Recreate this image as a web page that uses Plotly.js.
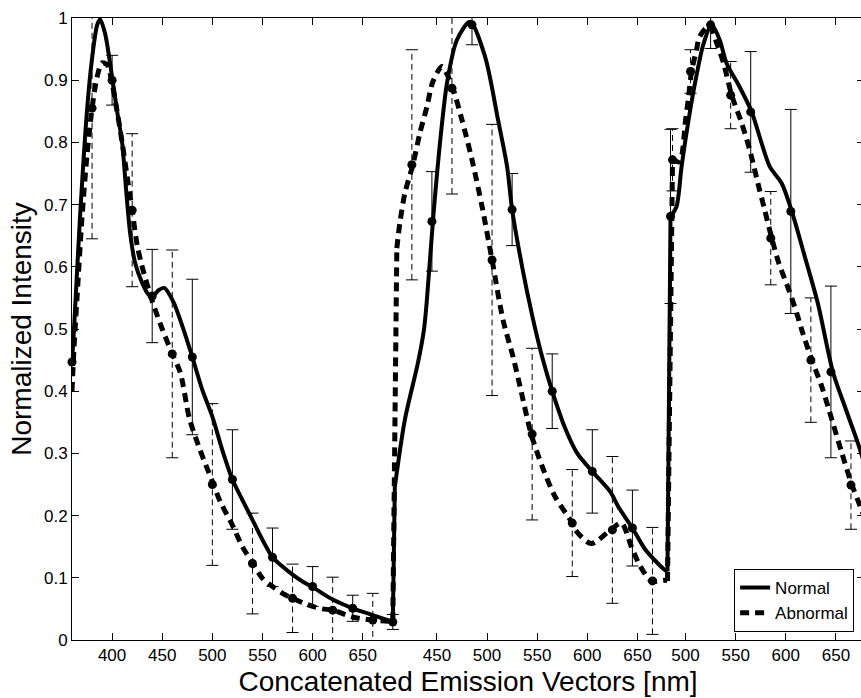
<!DOCTYPE html>
<html><head><meta charset="utf-8">
<script src="https://cdn.plot.ly/plotly-3.0.1.min.js"></script>
<style>html,body{margin:0;padding:0;overflow:hidden;background:#fff}</style>
</head><body><div id="chart"></div>
<script>
// ---- tick labels of the three concatenated emission vectors [nm]
const seg1Ticks = [400, 450, 500, 550, 600, 650];
const seg2Ticks = [450, 500, 550, 600, 650];
const seg3Ticks = [500, 550, 600, 650];
const yTicks = [0, 0.1, 0.2, 0.3, 0.4, 0.5, 0.6, 0.7, 0.8, 0.9, 1];
const yTickText = ['0', '0.1', '0.2', '0.3', '0.4', '0.5', '0.6', '0.7', '0.8', '0.9', '1'];

// ---- Normal: smooth curve (wavelength, intensity) per segment
const normal1Wl  = [360, 362, 368, 375, 380, 385, 388, 393, 400, 405, 410, 414, 418, 423, 430, 436, 440, 447, 452, 461, 470, 480, 490, 500, 510, 520, 530, 540, 550, 560, 570, 580, 590, 600, 620, 640, 660, 680];
const normal1Val = [0.447, 0.50, 0.68, 0.852, 0.935, 0.988, 0.998, 0.975, 0.905, 0.85, 0.80, 0.723, 0.654, 0.606, 0.574, 0.556, 0.553, 0.563, 0.566, 0.544, 0.505, 0.455, 0.402, 0.359, 0.305, 0.258, 0.225, 0.193, 0.161, 0.133, 0.118, 0.105, 0.094, 0.085, 0.065, 0.051, 0.04, 0.029];
const normal2Wl  = [408, 418, 431, 437, 440, 446, 453, 460, 470, 483, 498, 511, 520, 525, 535, 545, 555, 565, 578, 590, 605, 623, 631, 645, 658, 677, 680];
const normal2Val = [0.246, 0.354, 0.445, 0.498, 0.547, 0.673, 0.798, 0.895, 0.965, 0.994, 0.938, 0.836, 0.761, 0.692, 0.60, 0.522, 0.455, 0.40, 0.34, 0.30, 0.271, 0.238, 0.214, 0.18, 0.145, 0.113, 0.11];
const normal3Wl  = [485, 491, 496, 503, 510, 518, 526, 534, 541, 553, 566, 576, 584, 596, 606, 619, 632, 647, 659, 672, 680];
const normal3Val = [0.681, 0.697, 0.761, 0.836, 0.90, 0.959, 0.989, 0.965, 0.927, 0.892, 0.849, 0.798, 0.761, 0.734, 0.689, 0.616, 0.541, 0.431, 0.375, 0.316, 0.275];

// ---- Abnormal: smooth curve per segment
const abnormal1Wl  = [360, 362, 365, 370, 375, 380, 385, 390, 395, 400, 405, 410, 415, 420, 425, 430, 440, 450, 460, 468, 477, 486, 496, 500, 508, 519, 530, 540, 550, 560, 570, 580, 590, 600, 610, 620, 640, 660, 680];
const abnormal1Val = [0.40, 0.47, 0.55, 0.68, 0.78, 0.855, 0.905, 0.928, 0.925, 0.895, 0.85, 0.80, 0.745, 0.691, 0.635, 0.60, 0.545, 0.50, 0.46, 0.43, 0.357, 0.313, 0.271, 0.255, 0.222, 0.188, 0.15, 0.124, 0.099, 0.086, 0.075, 0.067, 0.06, 0.054, 0.05, 0.048, 0.037, 0.032, 0.03];
const abnormal2Wl  = [410, 413, 418, 426, 433, 440, 446, 455, 460, 466, 475, 485, 495, 505, 516, 526, 533, 544, 555, 568, 585, 588, 604, 623, 634, 644, 653, 664, 678, 680];
const abnormal2Val = [0.63, 0.67, 0.718, 0.764, 0.815, 0.857, 0.898, 0.922, 0.91, 0.887, 0.836, 0.772, 0.697, 0.611, 0.514, 0.455, 0.407, 0.331, 0.279, 0.23, 0.188, 0.177, 0.155, 0.177, 0.188, 0.15, 0.118, 0.095, 0.096, 0.095];
const abnormal3Wl  = [487, 494, 500, 503, 506, 511, 514, 524, 531, 538, 546, 556, 564, 573, 579, 586, 593, 603, 611, 616, 626, 636, 646, 656, 666, 673, 680];
const abnormal3Val = [0.772, 0.769, 0.836, 0.873, 0.914, 0.949, 0.97, 0.988, 0.96, 0.927, 0.876, 0.831, 0.788, 0.729, 0.691, 0.646, 0.606, 0.563, 0.525, 0.498, 0.45, 0.407, 0.354, 0.30, 0.249, 0.22, 0.19];

// ---- markers with standard deviations
const normalMk1Wl  = [360, 400, 440, 480, 520, 560, 600, 640, 680];
const normalMk1Val = [0.447, 0.90, 0.553, 0.455, 0.258, 0.133, 0.086, 0.051, 0.029];
const normalMk1Err = [0, 0.04, 0.075, 0.125, 0.08, 0.047, 0.032, 0.021, 0.012];
const normalMk2Wl  = [445, 485, 525, 565, 605, 645];
const normalMk2Val = [0.673, 0.989, 0.692, 0.40, 0.271, 0.18];
const normalMk2Err = [0.08, 0.032, 0.058, 0.06, 0.067, 0.061];
const normalMk3Wl  = [485, 525, 565, 605, 645];
const normalMk3Val = [0.681, 0.989, 0.849, 0.689, 0.431];
const normalMk3Err = [0.14, 0.038, 0.097, 0.164, 0.138];

const abnormalMk1Wl  = [380, 420, 460, 500, 540, 580, 620, 660];
const abnormalMk1Val = [0.855, 0.691, 0.46, 0.25, 0.123, 0.067, 0.048, 0.032];
const abnormalMk1Err = [0.21, 0.123, 0.167, 0.13, 0.081, 0.055, 0.053, 0.043];
const abnormalMk2Wl  = [425, 465, 505, 545, 585, 625, 665];
const abnormalMk2Val = [0.764, 0.887, 0.611, 0.331, 0.188, 0.177, 0.095];
const abnormalMk2Err = [0.185, 0.17, 0.218, 0.138, 0.086, 0.118, 0.086];
const abnormalMk3Wl  = [487, 505, 545, 585, 625, 665];
const abnormalMk3Val = [0.772, 0.914, 0.876, 0.646, 0.45, 0.249];
const abnormalMk3Err = [0.05, 0.035, 0.054, 0.075, 0.10, 0.071];

// ---- concatenation: position shift of each segment on the shared axis
const SEG_SHIFT = [0, 274, 472];
const CAP = 6; // cap half-width in axis units

const FONT = 'Liberation Sans, Arial, Helvetica, sans-serif';
const SOLID = {color: '#000', width: 4, shape: 'spline', smoothing: 0.8};
const DASHED = {color: '#000', width: 5, dash: '9px,6px', shape: 'spline', smoothing: 0.8};

const shift = (arr, k) => arr.map(w => w + SEG_SHIFT[k]);

const traces = [];
function addSeries(name, curves, style) {
  curves.forEach((c, k) => {
    traces.push({type: 'scatter', mode: 'lines', x: shift(c[0], k), y: c[1],
      line: style, name: name, legendgroup: name, showlegend: k === 0,
      hoverinfo: 'skip'});
    if (k < curves.length - 1) {
      const n = curves[k + 1];
      traces.push({type: 'scatter', mode: 'lines',
        x: [c[0][c[0].length - 1] + SEG_SHIFT[k], n[0][0] + SEG_SHIFT[k + 1]],
        y: [c[1][c[1].length - 1], n[1][0]],
        line: Object.assign({}, style, {shape: 'linear'}), legendgroup: name,
        showlegend: false, hoverinfo: 'skip'});
    }
  });
}

addSeries('Normal', [[normal1Wl, normal1Val], [normal2Wl, normal2Val], [normal3Wl, normal3Val]], SOLID);
addSeries('Abnormal', [[abnormal1Wl, abnormal1Val], [abnormal2Wl, abnormal2Val], [abnormal3Wl, abnormal3Val]], DASHED);

function addErrorMarkers(sets, dash, group) {
  sets.forEach((m, k) => {
    const xs = shift(m[0], k);
    const vx = [], vy = [], cx = [], cy = [];
    xs.forEach((x, i) => {
      if (!m[2][i]) return;
      const lo = m[1][i] - m[2][i], hi = m[1][i] + m[2][i];
      vx.push(x, x, null); vy.push(lo, hi, null);
      cx.push(x - CAP, x + CAP, null, x - CAP, x + CAP, null);
      cy.push(lo, lo, null, hi, hi, null);
    });
    traces.push({type: 'scatter', mode: 'lines', x: vx, y: vy,
      line: {color: '#000', width: 1, dash: dash}, showlegend: false, hoverinfo: 'skip', legendgroup: group});
    traces.push({type: 'scatter', mode: 'lines', x: cx, y: cy,
      line: {color: '#000', width: 1}, showlegend: false, hoverinfo: 'skip', legendgroup: group});
    traces.push({type: 'scatter', mode: 'markers', x: xs, y: m[1], cliponaxis: false,
      marker: {color: '#000', size: 9}, showlegend: false, legendgroup: group});
  });
}

addErrorMarkers([[normalMk1Wl, normalMk1Val, normalMk1Err], [normalMk2Wl, normalMk2Val, normalMk2Err], [normalMk3Wl, normalMk3Val, normalMk3Err]], 'solid', 'Normal');
addErrorMarkers([[abnormalMk1Wl, abnormalMk1Val, abnormalMk1Err], [abnormalMk2Wl, abnormalMk2Val, abnormalMk2Err], [abnormalMk3Wl, abnormalMk3Val, abnormalMk3Err]], '6px,4px', 'Abnormal');

const tickVals = [].concat(shift(seg1Ticks, 0), shift(seg2Ticks, 1), shift(seg3Ticks, 2));
const tickText = [].concat(seg1Ticks, seg2Ticks, seg3Ticks).map(String);

const layout = {
  width: 864, height: 698,
  margin: {l: 72, r: 0, t: 18, b: 58},
  paper_bgcolor: '#fff', plot_bgcolor: '#fff',
  font: {family: FONT, color: '#000', size: 17},
  showlegend: true,
  legend: {x: 0.9875, y: 0.0129, xanchor: 'right', yanchor: 'bottom',
    bgcolor: '#fff', bordercolor: '#000', borderwidth: 1,
    entrywidth: 130, entrywidthmode: 'pixels',
    font: {family: FONT, size: 17, color: '#000'}, tracegroupgap: 0},
  xaxis: {
    range: [360, 1150], showgrid: false, zeroline: false,
    showline: true, linecolor: '#000', linewidth: 1, mirror: 'ticks',
    ticks: 'inside', ticklen: 7, tickcolor: '#000', tickwidth: 1,
    tickmode: 'array', tickvals: tickVals, ticktext: tickText,
    tickfont: {family: FONT, size: 17, color: '#000'},
    title: {text: 'Concatenated Emission Vectors [nm]', font: {family: FONT, size: 28, color: '#000'}, standoff: 6}
  },
  yaxis: {
    range: [0, 1], showgrid: false, zeroline: false,
    showline: true, linecolor: '#000', linewidth: 1, mirror: 'ticks',
    ticks: 'inside', ticklen: 7, tickcolor: '#000', tickwidth: 1,
    tickmode: 'array', tickvals: yTicks, ticktext: yTickText,
    tickfont: {family: FONT, size: 17, color: '#000'},
    title: {text: 'Normalized Intensity', font: {family: FONT, size: 28, color: '#000'}, standoff: 4}
  }
};

Plotly.newPlot('chart', traces, layout, {displayModeBar: false, staticPlot: true});
</script>
</body></html>
